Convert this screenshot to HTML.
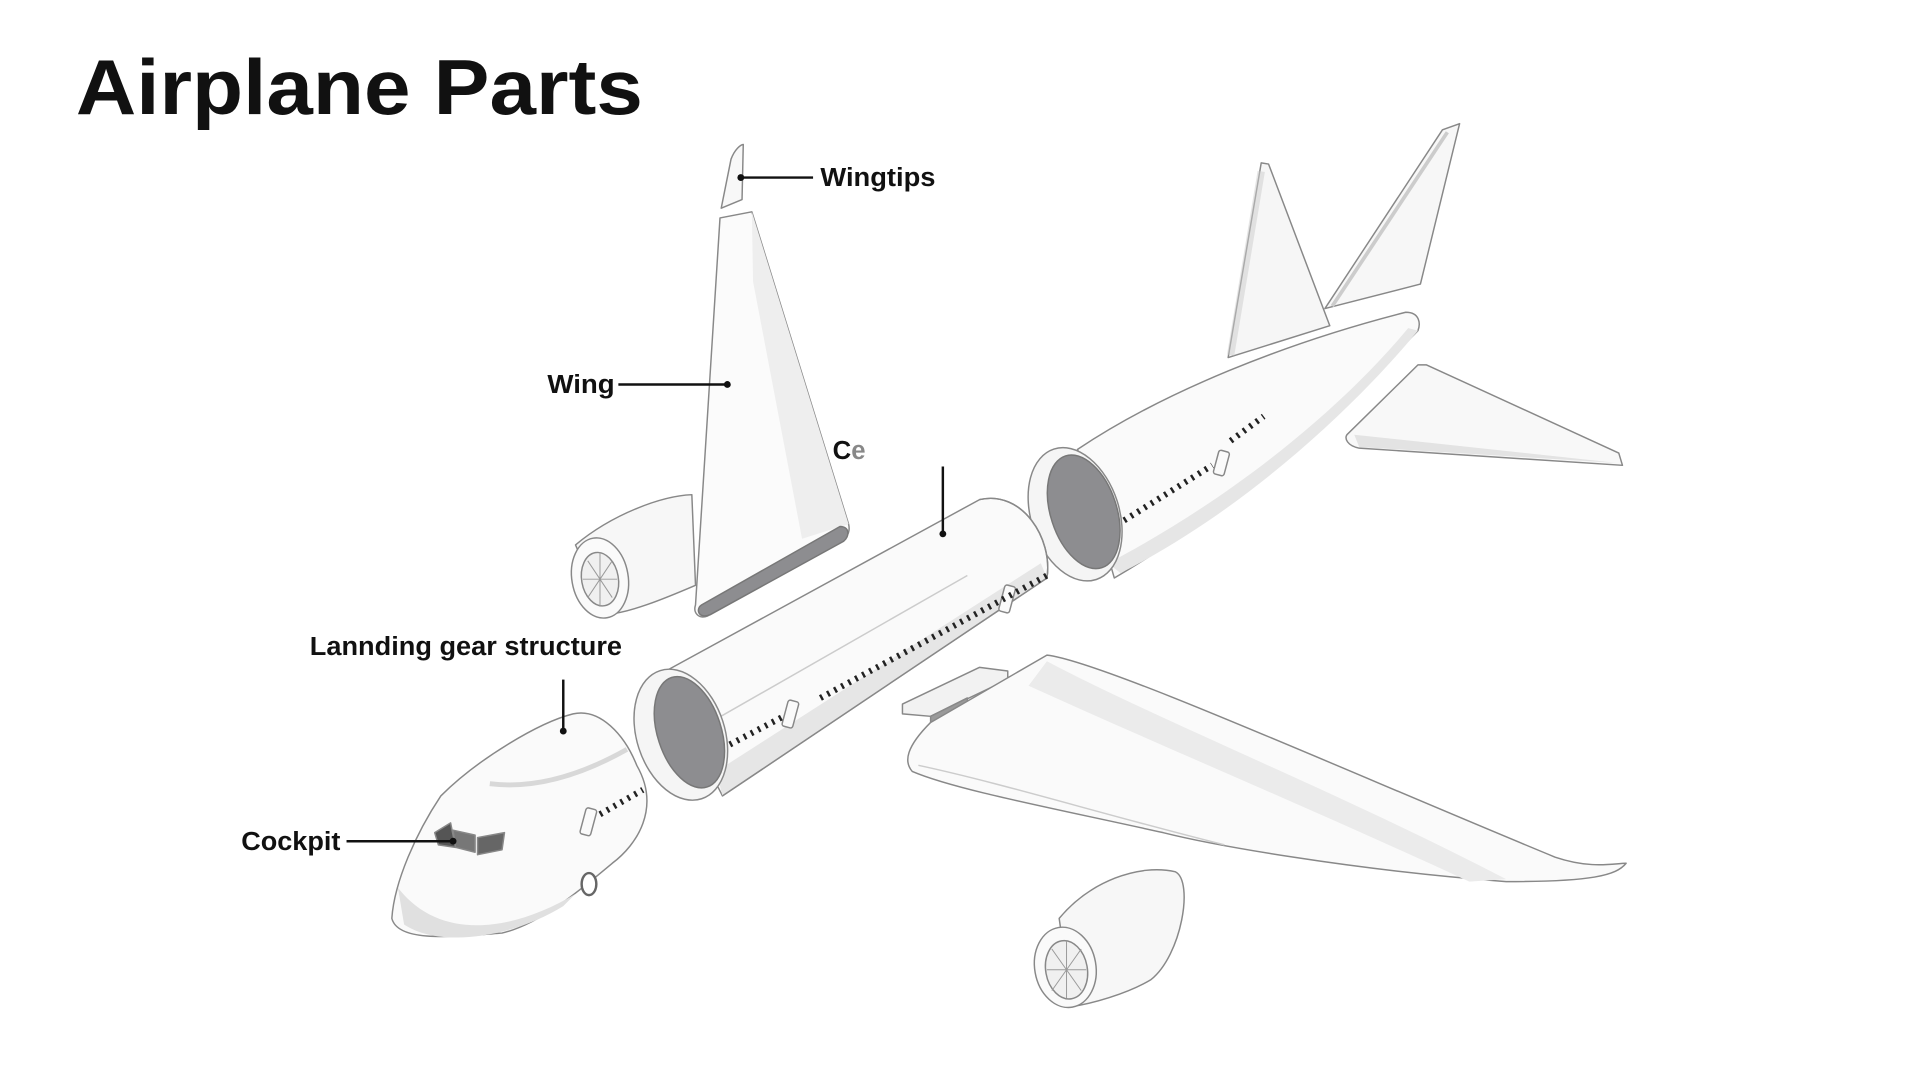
<!DOCTYPE html>
<html><head><meta charset="utf-8"><style>
html,body{margin:0;padding:0;background:#fff;width:1920px;height:1080px;overflow:hidden}
svg{display:block}
text{font-family:"Liberation Sans",sans-serif;font-weight:bold;fill:#111}
</style></head><body>
<svg width="1920" height="1080" viewBox="0 0 1568 882" xmlns="http://www.w3.org/2000/svg">
<g stroke="#888" stroke-width="1.2" fill="#fafafa" stroke-linejoin="round">
<path d="M1003,292 L1030,133 L1036,134 L1086,266 Z" fill="#f6f6f6"/>
<path d="M1005,290 L1030,140" stroke="#ccc" fill="none" stroke-width="6" opacity=".5"/>
<path d="M1082,252 L1178,106 L1192,101 L1160,232 Z" fill="#f7f7f7"/>
<path d="M1088,250 L1182,108" stroke="#ccc" fill="none" stroke-width="3"/>
<path d="M880,367 C950,320 1050,280 1148,255 C1160,255 1160,265 1158,270 C1100,330 1000,420 910,472 Z" fill="#fafafa"/>
<path d="M1158,270 C1100,340 1010,420 915,468 L905,460 C1000,410 1090,340 1150,268 Z" fill="#e6e6e6" stroke="none"/>
<path d="M1100,355 L1158,298 L1165,298 L1322,370 L1325,380 L1110,366 C1100,364 1098,358 1100,355 Z" fill="#f8f8f8"/>
<path d="M1106,355 L1320,378 L1110,365 Z" fill="#e3e3e3" stroke="none"/>
<ellipse cx="878" cy="420" rx="36" ry="56" transform="rotate(-18 878 420)" fill="#f5f5f5"/>
<ellipse cx="885" cy="418" rx="27" ry="48" transform="rotate(-18 885 418)" fill="#8d8d90" stroke="#777"/>
<path d="M470,445 C500,420 540,405 565,404 L568,478 C540,490 515,500 495,502 Z" fill="#f7f7f7"/>
<ellipse cx="490" cy="472" rx="23" ry="33" transform="rotate(-10 490 472)"/>
<ellipse cx="490" cy="473" rx="15" ry="22" transform="rotate(-10 490 473)" fill="#f0f0f0"/>
<g stroke="#999" stroke-width="0.8"><path d="M490,451 L490,495 M476,473 L504,473 M480,458 L500,488 M500,458 L480,488"/></g>
<path d="M588,178 L614,173 L693,428 C695,436 690,440 685,442 L578,503 C570,506 566,500 568,494 Z" fill="#fbfbfb"/>
<path d="M614,173 L693,428 L655,440 L615,230 Z" fill="#eeeeee" stroke="none"/>
<path d="M573,494 L686,430 C694,430 694,438 689,442 L580,502 C570,506 568,497 573,494 Z" fill="#8d8d90" stroke="#777"/>
<path d="M589,170 L597,130 C600,122 605,118 607,118 L606,163 Z" fill="#f8f8f8"/>
<path d="M540,550 L800,408 C835,400 860,440 855,472 L590,650 Z" fill="#fafafa"/>
<path d="M855,472 L590,650 L585,630 L850,460 Z" fill="#e6e6e6" stroke="none"/>
<path d="M800,408 C835,400 860,440 855,472 L590,650" fill="none"/>
<path d="M580,590 L790,470" stroke="#ccc" fill="none"/>
<ellipse cx="556" cy="600" rx="36" ry="55" transform="rotate(-18 556 600)" fill="#f5f5f5"/>
<ellipse cx="563" cy="598" rx="26" ry="47" transform="rotate(-18 563 598)" fill="#8d8d90" stroke="#777"/>
<path d="M737,575 L800,545 L823,548 L823,555 L760,585 L737,583 Z" fill="#f2f2f2"/>
<path d="M760,585 L790,570 L790,575 L760,590 Z" fill="#999"/>
<path d="M760,590 L855,535 C900,540 1100,630 1270,700 C1300,710 1318,705 1328,705 C1320,715 1300,720 1230,720 C1100,710 990,690 950,680 C860,660 780,645 745,630 C738,622 740,610 760,590 Z" fill="#fafafa"/>
<path d="M855,540 C950,590 1100,650 1230,718 L1200,720 C1070,660 950,610 840,560 Z" fill="#ebebeb" stroke="none"/>
<path d="M750,625 C820,640 900,665 1000,690" stroke="#ccc" fill="none"/>
<path d="M865,750 C890,720 930,705 960,712 C975,720 965,780 940,800 C920,812 890,820 875,822 Z" fill="#f7f7f7"/>
<ellipse cx="870" cy="790" rx="25" ry="33" transform="rotate(-10 870 790)"/>
<ellipse cx="871" cy="792" rx="17" ry="24" transform="rotate(-10 871 792)" fill="#f0f0f0"/>
<g stroke="#999" stroke-width="0.8"><path d="M871,769 L871,815 M855,792 L887,792 M859,775 L883,809 M883,775 L859,809"/></g>
<path d="M320,750 C322,720 340,680 360,650 C390,620 440,590 468,583 C490,578 510,600 520,625 C540,660 520,690 500,705 C470,730 440,755 410,762 C370,765 325,770 320,750 Z" fill="#fafafa"/>
<path d="M325,725 C360,770 420,760 470,730 L460,740 C420,765 360,775 330,755 Z" fill="#e0e0e0" stroke="none"/>
<path d="M400,640 C440,645 480,630 512,612" stroke="#d8d8d8" stroke-width="4" fill="none"/>
<path d="M355,680 L368,672 L372,692 L358,690 Z" fill="#555"/>
<path d="M370,678 L388,682 L388,696 L372,692 Z" fill="#777"/>
<path d="M390,684 L412,680 L410,694 L390,698 Z" fill="#666"/>
<ellipse cx="481" cy="722" rx="6" ry="9" fill="#fff" stroke="#666" stroke-width="2"/>
<rect x="476" y="660" width="9" height="22" rx="2" transform="rotate(15 480 671)"/>
<rect x="641" y="572" width="9" height="22" rx="2" transform="rotate(15 645 583)"/>
<rect x="818" y="478" width="9" height="22" rx="2" transform="rotate(15 822 489)"/>
<rect x="993" y="368" width="9" height="20" rx="2" transform="rotate(15 997 378)"/>
</g>
<g stroke="#222" stroke-width="5" stroke-dasharray="2 4.5" fill="none">
<path d="M490,665 L525,645"/>
<path d="M596,608 L640,585"/>
<path d="M670,570 L855,470"/>
<path d="M918,425 L990,380"/>
<path d="M1005,360 L1032,340"/>
</g>
<text x="62" y="93" font-size="64" textLength="463" lengthAdjust="spacingAndGlyphs">Airplane Parts</text>
<g font-size="21">
<text x="670" y="152" textLength="94" lengthAdjust="spacingAndGlyphs">Wingtips</text>
<text x="447" y="321" textLength="55" lengthAdjust="spacingAndGlyphs">Wing</text>
<text x="680" y="375">C<tspan fill="#888">e</tspan></text>
<text x="253" y="535" textLength="255" lengthAdjust="spacingAndGlyphs">Lannding gear structure</text>
<text x="197" y="694" textLength="81" lengthAdjust="spacingAndGlyphs">Cockpit</text>
</g>
<g stroke="#111" stroke-width="2">
<line x1="605" y1="145" x2="664" y2="145"/>
<line x1="505" y1="314" x2="594" y2="314"/>
<line x1="770" y1="381" x2="770" y2="436"/>
<line x1="460" y1="555" x2="460" y2="597"/>
<line x1="283" y1="687" x2="370" y2="687"/>
</g>
<g fill="#111">
<circle cx="605" cy="145" r="2.8"/><circle cx="594" cy="314" r="2.8"/>
<circle cx="770" cy="436" r="2.8"/><circle cx="460" cy="597" r="2.8"/><circle cx="370" cy="687" r="2.8"/>
</g>
</svg>
</body></html>
